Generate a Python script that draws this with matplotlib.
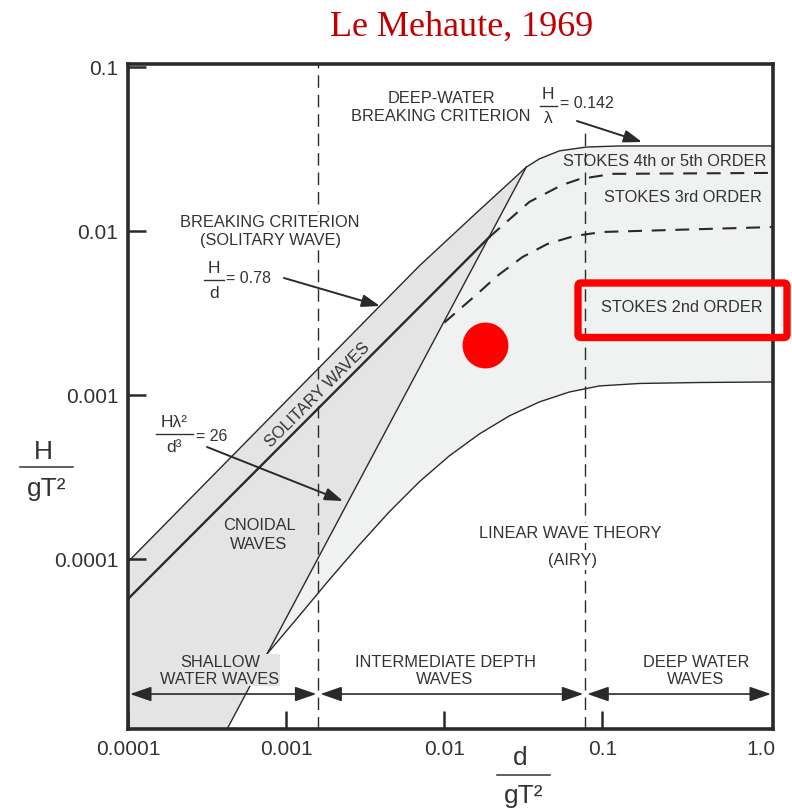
import numpy as np
import matplotlib
matplotlib.use("Agg")
import matplotlib.pyplot as plt
from matplotlib.lines import Line2D
from matplotlib.patches import FancyBboxPatch

plt.rcParams['font.family'] = ['Liberation Sans', 'DejaVu Sans']
plt.rcParams['lines.scale_dashes'] = False

# ---------------- data (d/gT^2 , H/gT^2) ----------------
x_lim = (1e-4, 1.2)
y_lim = (9.18e-6, 0.1043)
shallow_limit = 0.0016
deep_limit = 0.078

x_ticks = [1e-4, 1e-3, 1e-2, 1e-1, 1.0]
x_tick_labels = ['0.0001', '0.001', '0.01', '0.1', '1.0']
y_ticks = [1e-4, 1e-3, 1e-2, 1e-1]
y_tick_labels = ['0.0001', '0.001', '0.01', '0.1']

# breaking limit: H/d = 0.78 then H/L = 0.142
breaking_x = [1e-4, 0.00695, 0.0157, 0.033, 0.0399, 0.0535, 0.0793, 0.128, 1.2]
breaking_y = [9.6e-5, 0.00612, 0.0127, 0.0245, 0.0275, 0.0308, 0.0325, 0.033, 0.033]

# lower solitary-wave boundary (thick line)
solitary_x = [1e-4, 0.0193]
solitary_y = [5.7e-5, 0.00919]

# Ursell limit H L^2 / d^3 = 26
ursell_x = [4.24e-4, 0.033]
ursell_y = [9.2e-6, 0.0245]

# Stokes 4th-5th / 3rd boundary (dashed)
stokes45_x = [0.0193, 0.0345, 0.0551, 0.0714, 0.1156, 1.2]
stokes45_y = [0.00919, 0.01503, 0.0190, 0.0207, 0.0223, 0.0226]

# Stokes 3rd / 2nd boundary (dashed)
stokes23_x = [0.01, 0.01618, 0.02163, 0.0312, 0.0449, 0.0665, 0.1, 1.2]
stokes23_y = [0.00276, 0.00413, 0.00532, 0.00693, 0.00833, 0.00932, 0.00986, 0.01057]

# Stokes 2nd / linear (Airy) boundary
airy_x = [7.59e-4, 1.208e-3, 1.871e-3, 2.90e-3, 4.49e-3, 6.95e-3, 0.01076, 0.01667,
          0.02578, 0.0399, 0.0618, 0.0957, 0.1714, 0.411, 1.2]
airy_y = [2.64e-5, 4.49e-5, 7.45e-5, 1.216e-4, 1.936e-4, 2.95e-4, 4.25e-4, 5.78e-4,
          7.45e-4, 9.06e-4, 1.042e-3, 1.135e-3, 1.175e-3, 1.191e-3, 1.2e-3]

zone_arrow_y = 1.5e-5
highlight_point = (0.0182, 0.00202)

# ---------------- figure ----------------
W, H = 792, 812
fig = plt.figure(figsize=(W / 100, H / 100), dpi=100)
ax = fig.add_axes([128 / W, 1 - 730 / H, 645 / W, 665 / H])
ax.set_xscale('log')
ax.set_yscale('log')
ax.set_xlim(x_lim)
ax.set_ylim(y_lim)

INK = '#2a2a2a'
TXT = '#333333'
GRAY_DARK = '#e4e4e4'
GRAY_LIGHT = '#f0f1f1'
LBL = 11.8

# shaded regions
k = breaking_x.index(ursell_x[-1])
polyA_x = [x_lim[0], *breaking_x[:k + 1], ursell_x[0]]
polyA_y = [y_lim[0], *breaking_y[:k + 1], ursell_y[0]]
ax.fill(polyA_x, polyA_y, color=GRAY_DARK, lw=0, zorder=1)
polyB_x = [airy_x[0], *breaking_x[k:], *airy_x[::-1]]
polyB_y = [airy_y[0], *breaking_y[k:], *airy_y[::-1]]
ax.fill(polyB_x, polyB_y, color=GRAY_LIGHT, lw=0, zorder=1)

# curves
ax.plot(breaking_x, breaking_y, color=INK, lw=1.0, zorder=3)
ax.plot(solitary_x, solitary_y, color=INK, lw=1.7, zorder=3)
ax.plot(ursell_x, ursell_y, color=INK, lw=1.0, zorder=3)
ax.plot(airy_x, airy_y, color=INK, lw=1.0, zorder=3)
ax.plot(stokes45_x, stokes45_y, color=INK, lw=1.5, ls=(0, (10, 7)), zorder=3)
ax.plot(stokes23_x, stokes23_y, color=INK, lw=1.5, ls=(0, (10, 7)), zorder=3)

# depth limits
ax.plot([shallow_limit, shallow_limit], [y_lim[0], y_lim[1]], color=INK, lw=1.0,
        ls=(0, (9, 5)), zorder=2)
ax.plot([deep_limit, deep_limit], [y_lim[0], 0.043], color=INK, lw=1.0,
        ls=(0, (9, 5)), zorder=2)

# zone arrows
bounds = [x_lim[0], shallow_limit, deep_limit, x_lim[1]]
for a, b in zip(bounds[:-1], bounds[1:]):
    ax.annotate('', xy=(b, zone_arrow_y), xytext=(a, zone_arrow_y),
                arrowprops=dict(arrowstyle='<|-|>,head_length=1.3,head_width=0.45',
                                mutation_scale=10, lw=1.2, color=INK,
                                shrinkA=1.5, shrinkB=1.5), zorder=4)

# ticks / spines
ax.set_xticks(x_ticks, x_tick_labels)
ax.set_yticks(y_ticks, y_tick_labels)
ax.minorticks_off()
ax.tick_params(direction='in', length=13, width=1.8, color=INK,
               labelsize=15, labelcolor=TXT, pad=7)
ax.xaxis.get_major_ticks()[-1].tick1line.set_visible(False)
for s in ax.spines.values():
    s.set_linewidth(2.6)
    s.set_color(INK)
    s.set_zorder(6)


def P(px, py):
    return ((px - 128) / 645, (730 - py) / 665)


def T(px, py, s, size=LBL, bg=None, pad=1.5, **kw):
    x, y = P(px, py)
    opts = dict(transform=ax.transAxes, ha='center', va='center', fontsize=size,
                color=TXT, zorder=5)
    opts.update(kw)
    if bg is not None:
        opts['bbox'] = dict(facecolor=bg, edgecolor='none', pad=pad)
    return ax.text(x, y, s, **opts)


def bar(px0, px1, py, lw=1.0):
    x0, y0 = P(px0, py)
    x1, _ = P(px1, py)
    ax.add_line(Line2D([x0, x1], [y0, y0], transform=ax.transAxes, color=TXT,
                       lw=lw, zorder=5))


def arrow(p0, p1):
    ax.annotate('', xy=P(*p1), xytext=P(*p0), xycoords='axes fraction',
                textcoords='axes fraction',
                arrowprops=dict(arrowstyle='-|>,head_length=1.1,head_width=0.38',
                                mutation_scale=10, lw=1.4, color=INK,
                                shrinkA=0, shrinkB=0), zorder=5)


# region labels
T(441, 107.5, 'DEEP-WATER\nBREAKING CRITERION', linespacing=1.2, bg='white')
T(270, 232, 'BREAKING CRITERION\n(SOLITARY WAVE)', linespacing=1.25, bg='white')
T(317, 394, 'SOLITARY WAVES', rotation=45, rotation_mode='anchor',
  va='center_baseline', bg=GRAY_DARK, pad=0.8, zorder=2.5)
T(259, 535, 'CNOIDAL\nWAVES', linespacing=1.4)
T(570, 534, 'LINEAR WAVE THEORY', bg='white')
T(572, 561, '(AIRY)', bg='white')
T(665, 162, 'STOKES 4th or 5th ORDER')
T(683, 198, 'STOKES 3rd ORDER')
T(682, 308, 'STOKES 2nd ORDER')
T(220, 671, 'SHALLOW\nWATER WAVES', linespacing=1.1, bg=GRAY_DARK, pad=0.5)
T(445, 671, 'INTERMEDIATE DEPTH\nWAVES', linespacing=1.1, bg='white', pad=0.5)
T(696, 671, 'DEEP WATER\nWAVES', linespacing=1.1, bg='white', pad=0.5)

# H/d = 0.78
T(214, 269, 'H', size=12.5)
bar(204, 224, 281)
T(214, 294, 'd', size=12.5)
T(226, 279, '= 0.78', size=11.5, ha='left')
arrow((284, 279), (380, 307))

# H/lambda = 0.142
T(548, 95, 'H', size=12.5)
bar(540, 557, 107)
T(548, 119, 'λ', size=12.5)
T(560, 104, '= 0.142', size=11.5, ha='left')
arrow((577, 122), (642, 143))

# H lambda^2 / d^3 = 26
T(174, 423, 'Hλ²', size=12.5)
bar(156, 193, 435)
T(174, 448, 'd³', size=12.5)
T(196, 437, '= 26', size=11.5, ha='left')
arrow((207, 448), (343, 502))

# highlight marker and box
ax.plot(*highlight_point, 'o', ms=33, color='#ff0000', mec='none', zorder=7, clip_on=False)
fig.add_artist(FancyBboxPatch((578 / W, 1 - 338.5 / H), 209 / W, 54.5 / H,
                              boxstyle='round,pad=0,rounding_size=0.004',
                              transform=fig.transFigure, fill=False,
                              ec='#ff0000', lw=5.3, zorder=10))

# title
fig.text(462 / W, 1 - 36 / H, 'Le Mehaute, 1969', ha='center', va='baseline',
         fontsize=26, family='Liberation Serif', color='#c00000')


# axis label fractions
def F(px, py):
    return (px / W, 1 - py / H)


fig.text(*F(43, 452), 'H', ha='center', va='center', fontsize=19, color=TXT)
fig.add_artist(Line2D([20 / W, 73 / W], [1 - 468 / H] * 2, transform=fig.transFigure,
                      color=TXT, lw=1.1))
fig.text(*F(47, 489), 'gT²', ha='center', va='center', fontsize=19, color=TXT)

fig.text(*F(520, 758), 'd', ha='center', va='center', fontsize=19, color=TXT)
fig.add_artist(Line2D([497 / W, 550 / W], [1 - 776 / H] * 2, transform=fig.transFigure,
                      color=TXT, lw=1.1))
fig.text(*F(524, 796), 'gT²', ha='center', va='center', fontsize=19, color=TXT)

fig.savefig('out.png', dpi=100)
